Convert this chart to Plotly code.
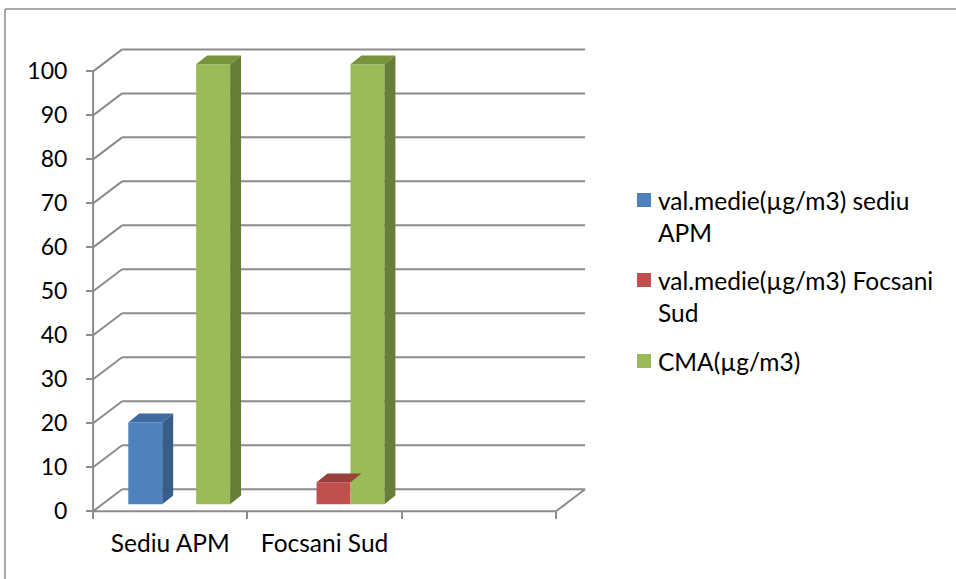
import plotly.graph_objects as go

# ---- data ----
categories = ["Sediu APM", "Focsani Sud", ""]
series_names = ["val.medie(µg/m3) sediu APM", "val.medie(µg/m3) Focsani Sud", "CMA(µg/m3)"]
legend_lines = [["val.medie(µg/m3) sediu", "APM"], ["val.medie(µg/m3) Focsani", "Sud"], ["CMA(µg/m3)"]]
sediu_apm = [18.6, 0, 0]
focsani_sud = [0, 5.0, 0]
cma = [100, 100, 0]
series_values = [sediu_apm, focsani_sud, cma]
y_ticks = [0, 10, 20, 30, 40, 50, 60, 70, 80, 90, 100]

# ---- style ----
front_colors = ["#4F81BD", "#C0504D", "#9BBB59"]
side_colors = ["#385D8A", "#8C3A38", "#677E38"]
top_colors = ["#3F6BA3", "#9A3F3C", "#77933C"]
grid_color = "#8C8C8C"
FONT = "Lato"
FS = 24.5
FS_TICK = 23

# geometry in data units
BAR_W = 0.22          # width of one bar
BAR_DX, BAR_DY = 0.058, 1.6    # bar plane offset from front plane
DEPTH_DX, DEPTH_DY = 0.071, 2.0  # bar depth
WALL_DX, WALL_DY = 0.188, 5.0    # back wall offset
X0, X1 = -0.5, len(categories) - 0.5

# figure pixel layout
W, H = 956, 579
ML, MR, MT, MB = 90, 366, 45, 66
PW, PH = W - ML - MR, H - MT - MB


def px(xp):
    return (xp - ML) / PW


def py(yp):
    return (H - MB - yp) / PH


fig = go.Figure()
shapes = []

# back wall gridlines + left diagonals
for v in y_ticks:
    shapes.append(dict(type="line", xref="x", yref="y", layer="below",
                       x0=X0, y0=v, x1=X0 + WALL_DX, y1=v + WALL_DY,
                       line=dict(color=grid_color, width=2)))
    shapes.append(dict(type="line", xref="x", yref="y", layer="below",
                       x0=X0 + WALL_DX, y0=v + WALL_DY, x1=X1 + WALL_DX, y1=v + WALL_DY,
                       line=dict(color=grid_color, width=2)))
# front vertical axis
shapes.append(dict(type="line", xref="x", yref="y", layer="below",
                   x0=X0, y0=0, x1=X0, y1=y_ticks[-1], line=dict(color=grid_color, width=2)))
# front floor edge + right diagonal
shapes.append(dict(type="line", xref="x", yref="y", layer="below",
                   x0=X0, y0=0, x1=X1, y1=0, line=dict(color=grid_color, width=2)))
shapes.append(dict(type="line", xref="x", yref="y", layer="below",
                   x0=X1, y0=0, x1=X1 + WALL_DX, y1=WALL_DY, line=dict(color=grid_color, width=2)))

n_series = len(series_values)
for s, vals in enumerate(series_values):
    xs = [i + BAR_DX + (s - (n_series - 1) / 2) * BAR_W for i in range(len(categories))]
    fig.add_trace(go.Bar(x=xs, y=vals, base=BAR_DY, width=BAR_W, name=series_names[s],
                         marker=dict(color=front_colors[s], line=dict(width=0)),
                         showlegend=False, hoverinfo="skip"))

# sides and tops
for s, vals in enumerate(series_values):
    sx, sy, tx, ty = [], [], [], []
    for i, v in enumerate(vals):
        if v <= 0:
            continue
        xc = i + BAR_DX + (s - (n_series - 1) / 2) * BAR_W
        xl, xr = xc - BAR_W / 2, xc + BAR_W / 2
        b, t = BAR_DY, BAR_DY + v
        # side hidden if the next bar in the same category is at least as tall
        hidden = s + 1 < n_series and series_values[s + 1][i] >= v
        if not hidden:
            sx += [xr, xr + DEPTH_DX, xr + DEPTH_DX, xr, xr, None]
            sy += [b, b + DEPTH_DY, t + DEPTH_DY, t, b, None]
        tx += [xl, xl + DEPTH_DX, xr + DEPTH_DX, xr, xl, None]
        ty += [t, t + DEPTH_DY, t + DEPTH_DY, t, t, None]
    if sx:
        fig.add_trace(go.Scatter(x=sx, y=sy, mode="lines", fill="toself", fillcolor=side_colors[s],
                                 line=dict(width=0), showlegend=False, hoverinfo="skip"))
    if tx:
        fig.add_trace(go.Scatter(x=tx, y=ty, mode="lines", fill="toself", fillcolor=top_colors[s],
                                 line=dict(width=0), showlegend=False, hoverinfo="skip"))

# chart border
shapes.append(dict(type="line", xref="paper", yref="paper", x0=px(5), y0=py(9), x1=px(956), y1=py(9),
                   line=dict(color="#8C8C8C", width=1.5)))
shapes.append(dict(type="line", xref="paper", yref="paper", x0=px(5), y0=py(9), x1=px(5), y1=py(579),
                   line=dict(color="#8C8C8C", width=1.5)))

# manual legend
annotations = []
legend_y = [200, 280, 361]
for s, lines in enumerate(legend_lines):
    y0 = legend_y[s]
    shapes.append(dict(type="rect", xref="paper", yref="paper",
                       x0=px(637), x1=px(651), y0=py(y0 - 7), y1=py(y0 + 7),
                       fillcolor=front_colors[s], line=dict(width=0)))
    for k, ln in enumerate(lines):
        annotations.append(dict(xref="paper", yref="paper", x=px(656), y=py(y0 + k * 32),
                                xanchor="left", yanchor="middle", text=ln, showarrow=False,
                                font=dict(family=FONT, size=FS, color="#000000")))

fig.update_layout(
    width=W, height=H, margin=dict(l=ML, r=MR, t=MT, b=MB),
    paper_bgcolor="white", plot_bgcolor="white", barmode="overlay",
    showlegend=False, shapes=shapes, annotations=annotations,
    font=dict(family=FONT, size=FS, color="#000000"),
    xaxis=dict(range=[-0.52, 2.72], tickmode="array", tickvals=[0, 1, 2], ticktext=categories,
               ticks="", showgrid=False, zeroline=False, showline=False,
               anchor="free", position=py(511), ticklabelstandoff=15,
               tickfont=dict(family=FONT, size=FS),
               minor=dict(tickmode="array", tickvals=[-0.5, 0.5, 1.5, 2.5], ticks="outside",
                          ticklen=7, tickwidth=2, tickcolor=grid_color, showgrid=False)),
    yaxis=dict(range=[-0.4, 106], tickmode="array", tickvals=y_ticks, ticks="outside",
               ticklen=7, tickwidth=2, tickcolor=grid_color, showgrid=False, zeroline=False,
               showline=False, anchor="free", position=px(93), ticklabelstandoff=14,
               tickfont=dict(family=FONT, size=FS_TICK)),
)

fig.write_html("out.html", config={"displayModeBar": False},
               post_script="document.body.style.margin='0';")
